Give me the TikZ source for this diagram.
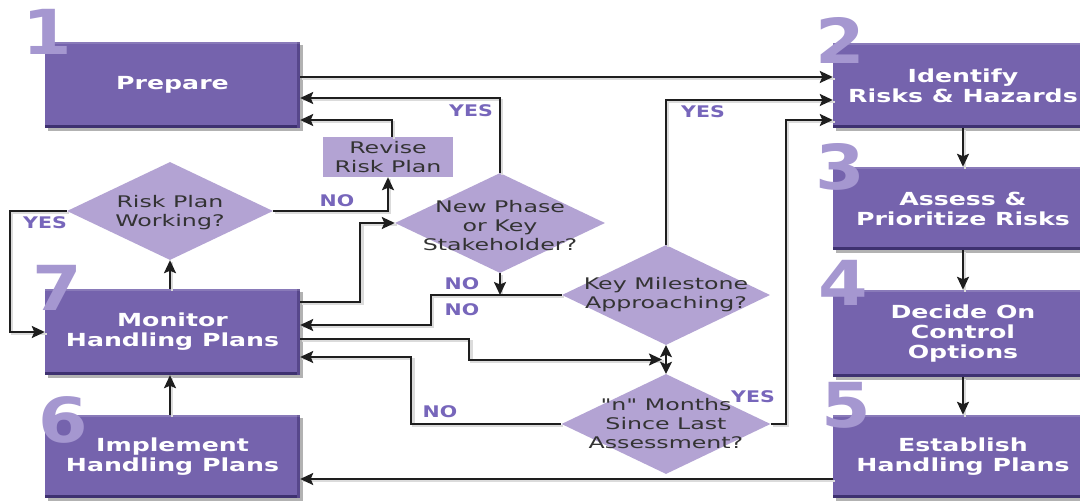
\documentclass[tikz,border=0pt]{standalone}
\usepackage{fontspec}
\setmainfont{DejaVu Sans}
\newfontfamily\boxfont{DejaVu Sans}[FakeStretch=1.4]
\newfontfamily\dfont{DejaVu Sans}[FakeStretch=1.48]
\newfontfamily\lfont{DejaVu Sans}[FakeStretch=1.28]
\newfontfamily\nfont{DejaVu Sans}[FakeStretch=1.15]
\usetikzlibrary{arrows.meta,shapes.geometric,shadows,calc}
\definecolor{boxc}{HTML}{7563AD}
\definecolor{boxdark}{HTML}{3E3170}
\definecolor{dia}{HTML}{B3A3D3}
\definecolor{numc}{HTML}{A597D0}
\definecolor{lab}{HTML}{7766BB}
\definecolor{ln}{HTML}{1E1E1E}
\definecolor{dtext}{HTML}{333333}
\begin{document}
\begin{tikzpicture}[x=1pt,y=-1pt,
  stepbox/.style={rectangle, fill=boxc, text=white, inner sep=0pt,
    font=\boxfont\bfseries\fontsize{18}{20}\selectfont, align=center,
    drop shadow={shadow xshift=3pt, shadow yshift=-3pt, opacity=0.3, fill=black},
    path picture={
      \fill[boxdark] (path picture bounding box.south west) rectangle ([yshift=3pt]path picture bounding box.south east);
      \fill[boxdark!55!boxc] ([xshift=-3pt]path picture bounding box.south east) rectangle (path picture bounding box.north east);
      \fill[white, opacity=0.15] (path picture bounding box.north west) rectangle ([yshift=-2pt]path picture bounding box.north east);
    }},
  lightbox/.style={rectangle, fill=dia, text=dtext, inner sep=0pt, align=center,
    font=\dfont\fontsize{16}{19}\selectfont},
  decision/.style={diamond, fill=dia, inner sep=0pt},
  dtxt/.style={font=\dfont\fontsize{16}{19}\selectfont, text=dtext, align=center, inner sep=0pt},
  lbl/.style={font=\lfont\bfseries\fontsize{16}{16}\selectfont, text=lab, inner sep=0pt},
  numstyle/.style={font=\nfont\bfseries\fontsize{62}{62}\selectfont, text=numc, inner sep=0pt},
  shd/.style={preaction={draw=black!14, line width=2.6pt, arrows=-, transform canvas={shift={(2pt,-2pt)}}}},
  conn/.style={shd, draw=ln, line width=2pt, -{Stealth[length=13pt,width=12pt,inset=2.5pt]}},
  conn2/.style={draw=ln, line width=2pt, {Stealth[length=12pt,width=12pt,inset=2.5pt]}-{Stealth[length=12pt,width=12pt,inset=2.5pt]}}
]
\useasboundingbox (0,0) rectangle (1080,503);
\clip (0,0) rectangle (1080,503);
\fill[white] (0,0) rectangle (1080,503);

% main step boxes
\node[stepbox, minimum width=255pt, minimum height=86pt] (p1) at (172.5,85) {Prepare};
\node[stepbox, minimum width=260pt, minimum height=85pt] (p2) at (963,85.5) {Identify\\Risks \& Hazards};
\node[stepbox, minimum width=260pt, minimum height=83pt] (p3) at (963,208.5) {Assess \&\\Prioritize Risks};
\node[stepbox, minimum width=260pt, minimum height=87pt] (p4) at (963,333.5) {Decide On\\Control\\Options};
\node[stepbox, minimum width=260pt, minimum height=83pt] (p5) at (963,456.5) {Establish\\Handling Plans};
\node[stepbox, minimum width=255pt, minimum height=86pt] (p7) at (172.5,332) {Monitor\\Handling Plans};
\node[stepbox, minimum width=255pt, minimum height=83pt] (p6) at (172.5,456.5) {Implement\\Handling Plans};

% revise box
\node[lightbox, minimum width=130pt, minimum height=40pt] (rev) at (388,157) {Revise\\Risk Plan};

% decisions
\node[decision, minimum width=206pt, minimum height=98pt,
  label={[dtxt, yshift=-2pt]center:{Risk Plan\\Working?}}] (dRP) at (170,211) {};
\node[decision, minimum width=210pt, minimum height=100pt,
  label={[dtxt, yshift=-3pt]center:{New Phase\\or Key\\Stakeholder?}}] (dNP) at (500,223) {};
\node[decision, minimum width=208pt, minimum height=100pt,
  label={[dtxt]center:{Key Milestone\\Approaching?}}] (dKM) at (666,295) {};
\node[decision, minimum width=209pt, minimum height=100pt,
  label={[dtxt]center:{"n" Months\\Since Last\\Assessment?}}] (dNM) at (666,424) {};

% step numbers
\node[numstyle] (n1) at (47,32) {1};
\node[numstyle] (n2) at (840,40) {2};
\node[numstyle] (n3) at (840,167) {3};
\node[numstyle] (n4) at (843,283) {4};
\node[numstyle] (n5) at (846,405) {5};
\node[numstyle] (n6) at (63,420) {6};
\node[numstyle] (n7) at (57,288) {7};

% coordinates for connector ends
\coordinate (o1) at ([yshift=8pt]p1.east);
\coordinate (i1) at ([yshift=-13pt]p1.east);
\coordinate (i2) at ([yshift=-35pt]p1.east);
\coordinate (o7a) at ([yshift=30pt]p7.east);
\coordinate (i7a) at ([yshift=7pt]p7.east);
\coordinate (o7b) at ([yshift=-7pt]p7.east);
\coordinate (i7b) at ([yshift=-25pt]p7.east);
\coordinate (i2b) at ([yshift=-14.5pt]p2.west);
\coordinate (i2c) at ([yshift=-34.5pt]p2.west);
\coordinate (o5) at ([yshift=-22.5pt]p5.west);
\coordinate (j1) at (dNP.south |- dKM.west);
\coordinate (j2) at ($(dKM.south)!0.5!(dNM.north)+(-4,0)$);

% connectors
\draw[conn] (o1) -- (o1 -| p2.west);
\draw[conn] (dNP.north) |- (i1);
\draw[conn] ([xshift=4pt]rev.north) |- (i2);
\draw[conn] (dRP.east) -| (rev.south);
\draw[conn] (o7a) -- ++(60,0) |- (dNP.west);
\draw[conn] (dNP.south) -- (j1);
\draw[conn] (dKM.west) -- ++(-131,0) |- (i7a);
\draw[conn] (o7b) -- ++(169,0) |- (j2);
\draw[conn2] (dKM.south) -- (dNM.north);
\draw[conn] (dNM.west) -- ++(-150,0) |- (i7b);
\draw[conn] (dNM.east) -- ++(15,0) |- (i2c);
\draw[conn] (dKM.north) |- (i2b);
\draw[conn] (p2) -- (p3);
\draw[conn] (p3) -- (p4);
\draw[conn] (p4) -- (p5);
\draw[conn] (o5) -- (o5 -| p6.east);
\draw[conn] (p6.north -| dRP.south) -- (p7.south -| dRP.south);
\draw[conn] (p7.north -| dRP.south) -- (dRP.south);
\draw[conn] (dRP.west) -- ++(-57,0) |- (p7.west);

% labels
\node[lbl] (yes1) at (471,111) {YES};
\node[lbl] (no1) at (337,201) {NO};
\node[lbl] (yes2) at (45,223) {YES};
\node[lbl] (no2) at (462,284) {NO};
\node[lbl] (no3) at (462,310) {NO};
\node[lbl] (no4) at (440,412) {NO};
\node[lbl] (yes3) at (703,112) {YES};
\node[lbl] (yes4) at (753,397) {YES};
\end{tikzpicture}
\end{document}
